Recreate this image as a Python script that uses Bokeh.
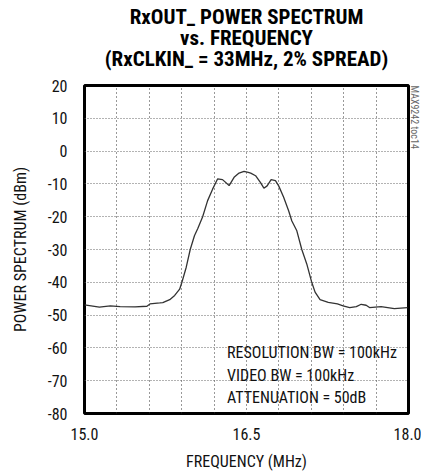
from bokeh.plotting import figure
from bokeh.models import FixedTicker, ColumnDataSource, Title
from bokeh.core.properties import value
from bokeh.embed import file_html
from bokeh.resources import INLINE

# ---- data ----
freq_mhz = [15.000, 15.138, 15.239, 15.330, 15.468, 15.578, 15.606, 15.697, 15.725,
            15.789, 15.835, 15.881, 15.902, 15.942, 15.979, 16.018, 16.049, 16.094,
            16.140, 16.186, 16.232, 16.278, 16.339, 16.385, 16.431, 16.477, 16.516,
            16.539, 16.584, 16.630, 16.661, 16.691, 16.728, 16.768, 16.798, 16.844,
            16.890, 16.920, 16.966, 17.012, 17.058, 17.104, 17.135, 17.181, 17.257,
            17.342, 17.394, 17.456, 17.517, 17.562, 17.608, 17.639, 17.746, 17.869,
            17.991]
power_dbm = [-46.9, -47.6, -47.2, -47.4, -47.5, -47.3, -46.6, -46.3, -46.2,
             -45.3, -44.0, -42.1, -40.0, -35.4, -30.0, -25.8, -23.6, -20.0,
             -15.1, -11.6, -8.5, -8.7, -10.5, -8.0, -6.7, -6.2, -6.5,
             -6.7, -7.5, -9.6, -11.3, -10.6, -8.7, -9.0, -10.6, -14.1,
             -18.2, -21.3, -24.3, -30.0, -34.4, -40.0, -43.0, -45.3, -46.1,
             -46.6, -47.2, -47.7, -47.4, -46.7, -47.0, -47.7, -47.4, -48.0,
             -47.7]

x_grid_ticks = [15.0, 15.3, 15.6, 15.9, 16.2, 16.5, 16.8, 17.1, 17.4, 17.7, 18.0]
x_label_ticks = [15.0, 16.5, 18.0]
x_tick_labels = ["15.0", "16.5", "18.0"]
y_ticks = [20, 10, 0, -10, -20, -30, -40, -50, -60, -70, -80]
y_tick_labels = ["20", "10", "0", "-10", "-20", "-30", "-40", "-50", "-60", "-70", "-80"]

title_lines = ["RxOUT_ POWER SPECTRUM", "vs. FREQUENCY", "(RxCLKIN_ = 33MHz, 2% SPREAD)"]
note_lines = ["RESOLUTION BW = 100kHz", "VIDEO BW = 100kHz", "ATTENUATION = 50dB"]
note_x = [16.32, 16.32, 16.32]
note_y = [-61.3, -68.4, -75.0]
toc_label = "MAX9242 toc14"

FONT = "'Roboto Condensed', 'Liberation Sans Narrow', 'Arial Narrow', 'Liberation Sans', sans-serif"

p = figure(width=421, height=476, output_backend="svg", toolbar_location=None, title=None,
           x_range=(15.0, 18.0), y_range=(-80, 20),
           min_border_left=84, min_border_right=10, min_border_top=85, min_border_bottom=63)

# spacer between frame and title block
p.add_layout(Title(text=" ", text_font_size="1px", standoff=14), "above")
# three centred title lines (added nearest-first)
for line in reversed(title_lines):
    t = Title(text=line, align="center", text_font=FONT, text_font_size="21px",
              text_font_style="bold", text_color="black", standoff=-5)
    p.add_layout(t, "above")

# small vertical figure id at the right edge
p.add_layout(Title(text=toc_label, align="left", text_font=FONT, text_font_size="10px",
                   text_font_style="normal", text_color="#666", standoff=0), "right")

p.outline_line_color = "black"
p.outline_line_width = 3
p.background_fill_color = "white"
p.border_fill_color = "white"

# axes
p.xaxis.ticker = FixedTicker(ticks=x_label_ticks)
p.xaxis.major_label_overrides = {k: v for k, v in zip(x_label_ticks, x_tick_labels)}
p.yaxis.ticker = FixedTicker(ticks=y_ticks)
p.yaxis.major_label_overrides = {k: v for k, v in zip(y_ticks, y_tick_labels)}
for ax in (p.xaxis[0], p.yaxis[0]):
    ax.axis_line_color = None
    ax.major_tick_line_color = None
    ax.minor_tick_line_color = None
    ax.major_tick_out = 0
    ax.major_tick_in = 0
    ax.major_label_text_font = FONT
    ax.major_label_text_font_size = "16px"
    ax.major_label_text_color = "#111"
    ax.axis_label_text_font = FONT
    ax.axis_label_text_font_size = "16px"
    ax.axis_label_text_font_style = "normal"
    ax.axis_label_text_color = "#111"

p.xaxis.axis_label = "FREQUENCY (MHz)"
p.xaxis.major_label_standoff = 14
p.xaxis.axis_label_standoff = 9
p.yaxis.axis_label = "POWER SPECTRUM (dBm)"
p.yaxis.major_label_standoff = 17
p.yaxis.axis_label_standoff = 15

# grids
p.xgrid.ticker = FixedTicker(ticks=x_grid_ticks)
p.ygrid.ticker = FixedTicker(ticks=y_ticks)
p.xgrid.grid_line_color = "#333333"
p.xgrid.grid_line_dash = "1 3"
p.xgrid.grid_line_width = 1
p.ygrid.grid_line_color = "#666666"
p.ygrid.grid_line_dash = "1 2"
p.ygrid.grid_line_width = 1

src = ColumnDataSource(dict(f=freq_mhz, pw=power_dbm))
p.line("f", "pw", source=src, line_color="#333333", line_width=1.3)

nsrc = ColumnDataSource(dict(x=note_x, y=note_y, t=note_lines))
p.text("x", "y", text="t", source=nsrc, text_font=value(FONT), text_font_size="16px",
       text_baseline="middle", text_align="left", text_color="#111")

open("out.html", "w").write(file_html(p, INLINE))
